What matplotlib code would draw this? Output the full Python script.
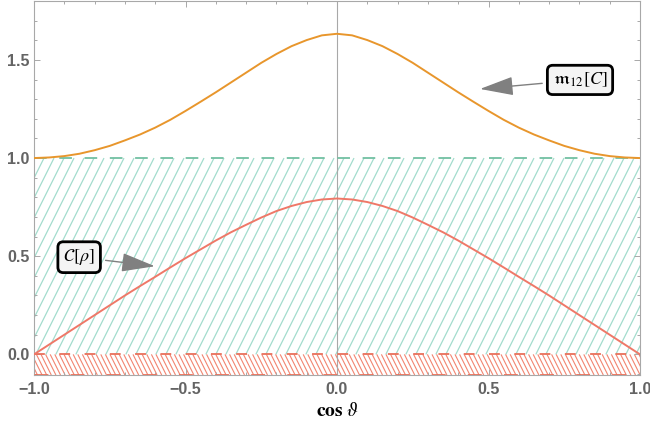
import numpy as np
import matplotlib
matplotlib.use("Agg")
import matplotlib.pyplot as plt

plt.rcParams["mathtext.fontset"] = "stix"
plt.rcParams["font.family"] = ["Liberation Sans", "DejaVu Sans"]

# valeurs (cos theta)
cos_theta = [-1.0, -0.95, -0.9, -0.85, -0.8, -0.75, -0.7, -0.65, -0.6, -0.55, -0.5,
             -0.45, -0.4, -0.35, -0.3, -0.25, -0.2, -0.15, -0.1, -0.05, 0.0,
             0.05, 0.1, 0.15, 0.2, 0.25, 0.3, 0.35, 0.4, 0.45, 0.5,
             0.55, 0.6, 0.65, 0.7, 0.75, 0.8, 0.85, 0.9, 0.95, 1.0]

# C[rho]
courbe_c = [0.0, 0.05, 0.10, 0.15, 0.20, 0.25, 0.30, 0.348, 0.395, 0.443, 0.49,
            0.535, 0.58, 0.622, 0.66, 0.697, 0.73, 0.756, 0.776, 0.789, 0.794,
            0.789, 0.776, 0.756, 0.73, 0.697, 0.66, 0.622, 0.58, 0.535, 0.49,
            0.443, 0.395, 0.348, 0.30, 0.25, 0.20, 0.15, 0.10, 0.05, 0.0]

# m12[C]
courbe_m = [1.0, 1.003, 1.01, 1.022, 1.04, 1.062, 1.09, 1.12, 1.155, 1.195, 1.24,
            1.287, 1.335, 1.385, 1.435, 1.485, 1.53, 1.57, 1.601, 1.625, 1.633,
            1.625, 1.601, 1.57, 1.53, 1.485, 1.435, 1.385, 1.335, 1.287, 1.24,
            1.195, 1.155, 1.12, 1.09, 1.062, 1.04, 1.022, 1.01, 1.003, 1.0]

BANDE_VERTE = (0.0, 1.0)
BANDE_ROUGE = (-0.105, 0.0)

XLIM = (-1.0, 1.0)
YLIM = (-0.105, 1.8)

ORANGE = "#e8962c"
ROUGE = "#ef7868"
VERT_HACH = "#a3dccd"
VERT_TIRET = "#72c0a2"
ROUGE_HACH = "#f28470"
ROUGE_TIRET = "#e9705a"
GRIS = "#a8a8a8"


def hachures(ax, y0, y1, pas_px, pente_px, couleur, sens, lw):
    # lignes de hachures a angle donne (en pixels), coupees par les axes
    bbox = ax.get_window_extent()
    sx = bbox.width / (XLIM[1] - XLIM[0])
    sy = bbox.height / (YLIM[1] - YLIM[0])
    pente = pente_px * sx / sy
    dx = pas_px / sx
    largeur = (y1 - y0) / pente
    for x0 in np.arange(XLIM[0] - largeur - dx, XLIM[1] + largeur + dx, dx):
        ax.plot([x0, x0 + sens * largeur], [y0, y1], color=couleur, lw=lw,
                zorder=1, solid_capstyle="butt")


def main():
    fig = plt.figure(figsize=(6.5, 4.28), dpi=100)
    ax = fig.add_axes([34 / 650, 1 - 375 / 428, 606 / 650, 374 / 428])
    ax.set_xlim(*XLIM)
    ax.set_ylim(*YLIM)

    hachures(ax, BANDE_VERTE[0], BANDE_VERTE[1], 10, 2.0, VERT_HACH, 1, 0.9)
    hachures(ax, BANDE_ROUGE[0], BANDE_ROUGE[1], 4.6, 2.0, ROUGE_HACH, -1, 0.8)

    ax.axvline(0, color=GRIS, lw=0.8, zorder=2)
    ax.axhline(BANDE_VERTE[1], color=VERT_TIRET, lw=1.3, dashes=(7, 7), zorder=3)
    ax.axhline(BANDE_ROUGE[1], color=ROUGE_TIRET, lw=1.3, dashes=(6, 8), zorder=3)
    ax.axhline(BANDE_ROUGE[0], color=ROUGE_TIRET, lw=2.0, dashes=(5, 8), zorder=3)

    ax.plot(cos_theta, courbe_m, color=ORANGE, lw=1.4, zorder=4)
    ax.plot(cos_theta, courbe_c, color=ROUGE, lw=1.4, zorder=4)

    boite = dict(boxstyle="round,pad=0.3,rounding_size=0.3", fc="#f4f4f4",
                 ec="black", lw=2)
    fleche = dict(arrowstyle="-|>,head_length=1.5,head_width=0.42",
                  color="#808080", lw=1, mutation_scale=14, shrinkA=3, shrinkB=0)
    ax.annotate(r"$\mathfrak{m}_{12}[C]$", xy=(0.472, 1.352), xytext=(0.802, 1.398),
                fontsize=13, ha="center", va="center", bbox=boite,
                arrowprops=fleche, zorder=6)
    ax.annotate(r"$\mathcal{C}[\rho]$", xy=(-0.601, 0.449), xytext=(-0.851, 0.495),
                fontsize=13, ha="center", va="center", bbox=boite,
                arrowprops=fleche, zorder=6)

    ax.set_xticks([-1.0, -0.5, 0.0, 0.5, 1.0])
    ax.set_xticklabels(["\u22121.0", "\u22120.5", "0.0", "0.5", "1.0"])
    ax.set_yticks([0.0, 0.5, 1.0, 1.5])
    ax.set_yticklabels(["0.0", "0.5", "1.0", "1.5"])
    ax.set_xticks(np.arange(-0.9, 1.0, 0.1), minor=True)
    ax.set_yticks(np.arange(-0.1, 1.8, 0.1), minor=True)

    for s in ax.spines.values():
        s.set_color(GRIS)
        s.set_linewidth(0.8)
    ax.tick_params(which="both", direction="in", top=True, right=True,
                   color=GRIS, width=0.7)
    ax.tick_params(which="major", length=4)
    ax.tick_params(which="minor", length=2.2)
    ax.tick_params(axis="x", pad=5)
    ax.tick_params(axis="y", pad=3)
    for lab in ax.get_xticklabels() + ax.get_yticklabels():
        lab.set_fontsize(11.5)
        lab.set_fontweight("bold")
        lab.set_color("#646464")

    ax.set_xlabel(r"$\mathbf{cos}\ \vartheta$", fontsize=14, labelpad=4)

    fig.savefig("out.png", dpi=100)
    plt.close(fig)


if __name__ == "__main__":
    main()
